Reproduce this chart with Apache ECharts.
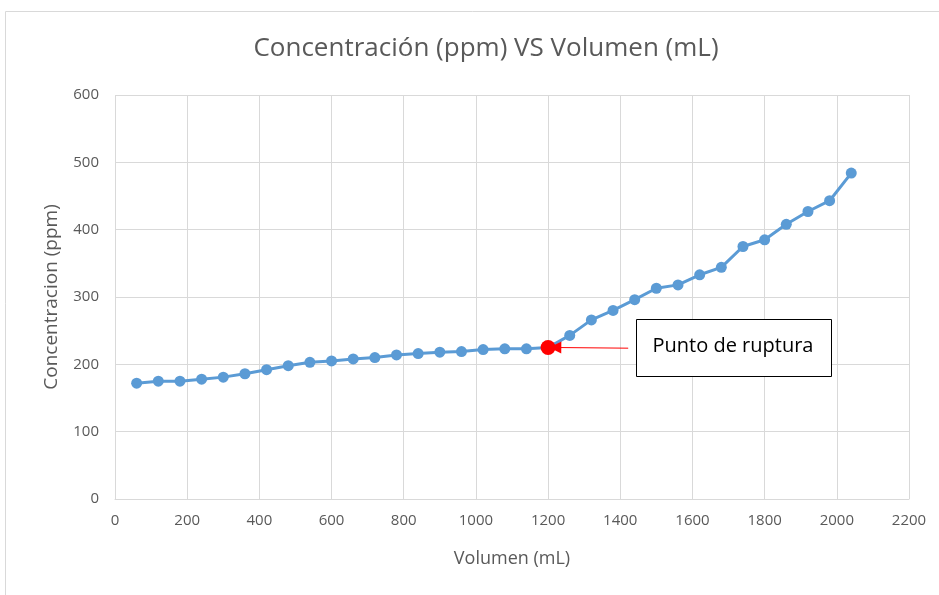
<!DOCTYPE html>
<html>
<head>
<meta charset="utf-8">
<script src="https://cdn.jsdelivr.net/npm/echarts@6/dist/echarts.min.js"></script>
<style>
  html, body { margin: 0; padding: 0; background: #fff; }
  #mychart { width: 939px; height: 595px; }
</style>
</head>
<body>
<div id="mychart"></div>
<script>
// datos
var volumen = [60, 120, 180, 240, 300, 360, 420, 480, 540, 600, 660, 720, 780, 840, 900, 960, 1020, 1080, 1140, 1200,
  1260, 1320, 1380, 1440, 1500, 1560, 1620, 1680, 1740, 1800, 1860, 1920, 1980, 2040];
var concentracion = [172, 175, 175, 178, 181, 186, 192, 198, 203, 205, 208, 210, 214, 216, 218, 219, 222, 223, 223, 225,
  243, 266, 280, 296, 313, 318, 333, 344, 375, 385, 408, 427, 443, 484];
var puntoRuptura = 1200;
var xTicks = { min: 0, max: 2200, interval: 200 };
var yTicks = { min: 0, max: 600, interval: 100 };

var gris = '#595959';
var fuente = 'Open Sans';

var serieData = volumen.map(function (v, i) {
  if (v === puntoRuptura) {
    return { value: [v, concentracion[i]], symbolSize: 15, itemStyle: { color: '#ff0000' } };
  }
  return [v, concentracion[i]];
});
var yRuptura = concentracion[volumen.indexOf(puntoRuptura)];

var myChart = echarts.init(document.getElementById('mychart'));
var option = {
  animation: false,
  title: {
    text: 'Concentración (ppm) VS Volumen (mL)',
    left: 481,
    textAlign: 'center',
    top: 31,
    textStyle: { fontFamily: fuente, fontSize: 26, fontWeight: 'normal', color: gris }
  },
  grid: { left: 115, right: 30, top: 95, bottom: 96 },
  xAxis: {
    type: 'value',
    min: xTicks.min, max: xTicks.max, interval: xTicks.interval,
    name: 'Volumen (mL)',
    nameLocation: 'middle',
    nameGap: 51,
    nameTextStyle: { fontFamily: fuente, fontSize: 18, color: gris },
    axisLine: { show: true, lineStyle: { color: '#d9d9d9' } },
    axisTick: { show: false },
    axisLabel: { fontFamily: fuente, fontSize: 15, color: gris, margin: 14, formatter: function (v) { return String(v); } },
    splitLine: { show: true, lineStyle: { color: '#d9d9d9' } }
  },
  yAxis: {
    type: 'value',
    min: yTicks.min, max: yTicks.max, interval: yTicks.interval,
    name: 'Concentracion (ppm)',
    nameLocation: 'middle',
    nameGap: 54,
    nameTextStyle: { fontFamily: fuente, fontSize: 19, color: gris },
    axisLine: { show: false },
    axisTick: { show: false },
    axisLabel: { fontFamily: fuente, fontSize: 15, color: gris, margin: 16 },
    splitLine: { show: true, lineStyle: { color: '#d9d9d9' } }
  },
  series: [{
    type: 'line',
    data: serieData,
    symbol: 'circle',
    symbolSize: 11,
    z: 3,
    lineStyle: { color: '#5b9bd5', width: 3 },
    itemStyle: { color: '#5b9bd5' },
    markLine: {
      silent: true,
      symbol: ['none', 'triangle'],
      symbolSize: [12, 12],
      label: { show: false },
      lineStyle: { color: '#ff0000', width: 1, type: 'solid' },
      data: [[
        { coord: [1422, yRuptura - 1] },
        { coord: [puntoRuptura + 20, yRuptura] }
      ]]
    }
  }],
  graphic: [
    {
      type: 'rect',
      shape: { x: 5.5, y: 11.5, width: 1000, height: 1000 },
      style: { fill: 'none', stroke: '#d9d9d9', lineWidth: 1 },
      silent: true, z: -10
    },
    {
      type: 'rect',
      shape: { x: 636.5, y: 319.5, width: 195, height: 57 },
      style: { fill: '#ffffff', stroke: '#000000', lineWidth: 1 },
      z: 100
    },
    {
      type: 'text',
      x: 733, y: 346,
      style: {
        text: 'Punto de ruptura',
        fill: '#000000',
        font: '20px "Open Sans"',
        align: 'center', verticalAlign: 'middle'
      },
      z: 101
    }
  ]
};
myChart.setOption(option);
</script>
</body>
</html>
